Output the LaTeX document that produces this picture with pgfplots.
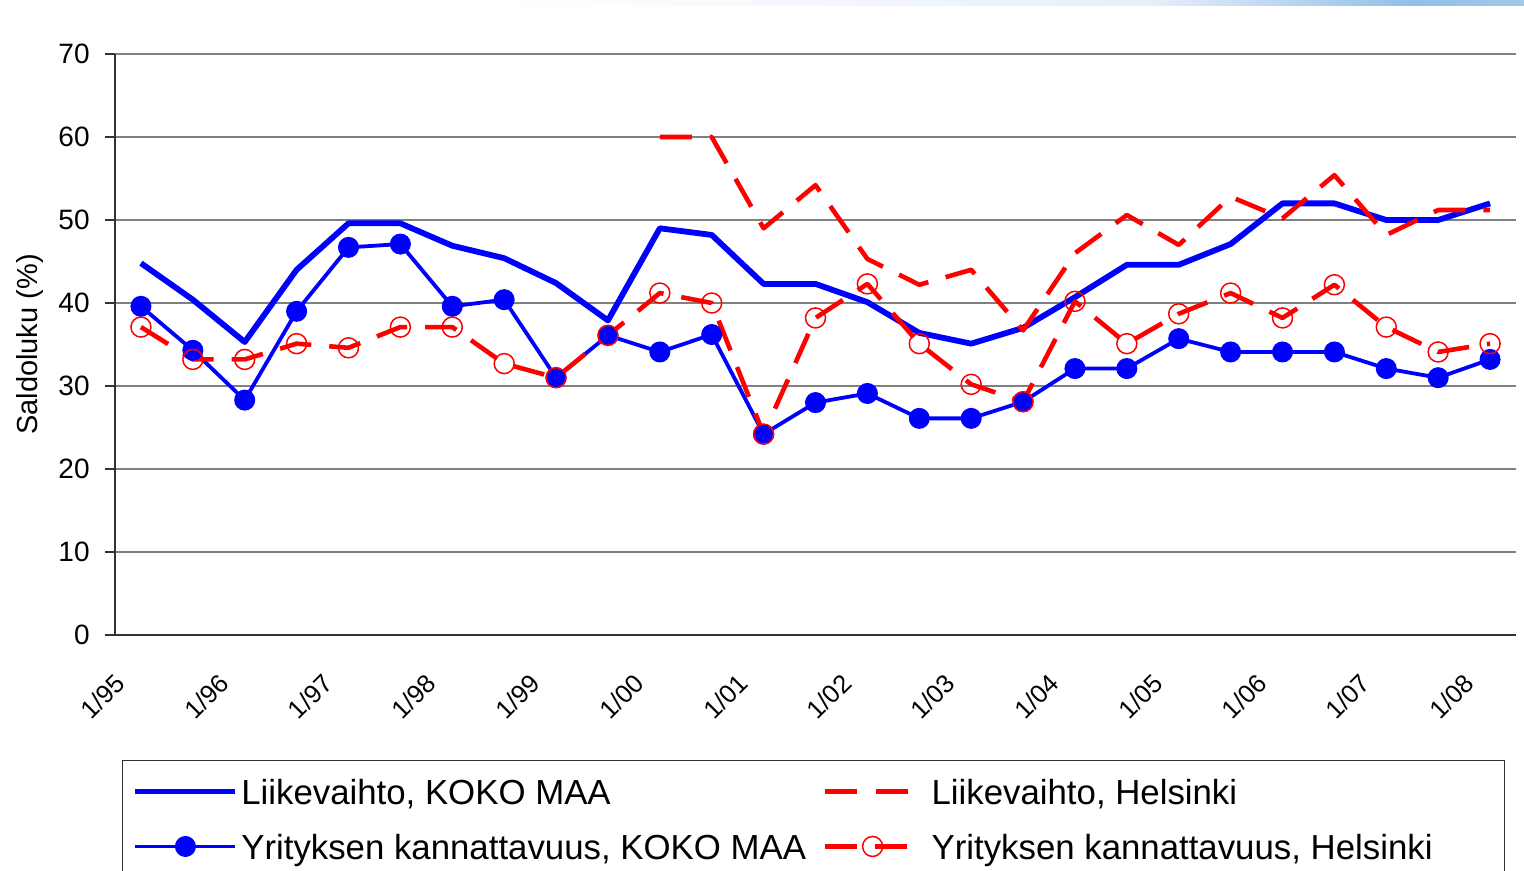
\documentclass[border=0pt]{standalone}
\usepackage{fontspec}
\setmainfont{Liberation Sans}
\usepackage{pgfplots}
\usepackage{pgfplotstable}
\pgfplotsset{compat=1.18}

\definecolor{xblue}{RGB}{0,0,255}
\definecolor{xred}{RGB}{255,0,0}
\definecolor{barA}{RGB}{232,238,250}
\definecolor{barB}{RGB}{145,192,232}
\definecolor{barC}{RGB}{160,200,235}

\pgfplotsset{
  imgA/.style={legend image code/.code={\draw[##1] (0pt,0pt) -- (50pt,0pt);}},
  imgB/.style={legend image code/.code={\draw[##1, dash pattern=on 16pt off 9.5pt] (0pt,0pt) -- (41.5pt,0pt); \path[draw=none,fill=none] (0pt,0pt) -- (52pt,0pt);}},
  imgC/.style={legend image code/.code={\draw[##1, mark repeat=2, mark phase=2] plot coordinates {(0pt,0pt) (25pt,0pt) (50pt,0pt)};}},
  imgD/.style={legend image code/.code={\draw[##1, mark repeat=2, mark phase=2] plot coordinates {(0pt,0pt) (24pt,0pt) (41.5pt,0pt)}; \path[draw=none,fill=none] (0pt,0pt) -- (52pt,0pt);}},
}

\pgfplotstableread{
x y
0 44.8
1 40.4
2 35.3
3 44.0
4 49.6
5 49.6
6 46.9
7 45.4
8 42.4
9 37.9
10 49.0
11 48.2
12 42.3
13 42.3
14 40.1
15 36.4
16 35.1
17 37.0
18 40.7
19 44.6
20 44.6
21 47.1
22 52.0
23 52.0
24 50.0
25 50.0
26 52.0
}\lvkoko

\pgfplotstableread{
x y
10 60.0
11 60.0
12 49.0
13 54.2
14 45.3
15 42.2
16 44.0
17 36.7
18 46.0
19 50.6
20 47.0
21 52.8
22 50.2
23 55.4
24 48.2
25 51.2
26 51.2
}\lvhki

\pgfplotstableread{
x y
0 39.6
1 34.3
2 28.3
3 39.0
4 46.7
5 47.1
6 39.6
7 40.4
8 31.0
9 36.1
10 34.1
11 36.2
12 24.2
13 28.0
14 29.1
15 26.1
16 26.1
17 28.1
18 32.1
19 32.1
20 35.7
21 34.1
22 34.1
23 34.1
24 32.1
25 31.0
26 33.2
}\ykkoko

\pgfplotstableread{
x y
0 37.1
1 33.2
2 33.2
3 35.1
4 34.6
5 37.1
6 37.1
7 32.7
8 31.0
9 36.1
10 41.2
11 40.0
12 24.2
13 38.2
14 42.3
15 35.1
16 30.2
17 28.1
18 40.2
19 35.1
20 38.7
21 41.2
22 38.2
23 42.2
24 37.1
25 34.1
26 35.1
}\ykhki

\begin{document}
\begin{tikzpicture}
\begin{axis}[
  name=ax,
  scale only axis,
  width=700.5pt, height=290.5pt,
  xmin=-0.5, xmax=26.5, ymin=0, ymax=70,
  axis x line*=bottom, axis y line*=left,
  axis line style={black!80, line width=0.6pt},
  xtick={0,2,...,26},
  xticklabels={1/95,1/96,1/97,1/98,1/99,1/00,1/01,1/02,1/03,1/04,1/05,1/06,1/07,1/08},
  x tick style={draw=none},
  ytick={0,10,...,70},
  y tick style={black!80, line width=0.6pt},
  tick align=outside, major tick length=5pt,
  ymajorgrids,
  grid style={draw=black!50, line width=0.6pt},
  /pgf/number format/assume math mode=true,
  yticklabel style={font=\fontsize{14}{16}\selectfont, inner xsep=0pt, xshift=-7.5pt},
  xticklabel style={font=\fontsize{12.8}{15}\selectfont, inner sep=0pt, xshift=-10.25pt, yshift=-16.75pt, rotate=45, anchor=east},
  ylabel={Saldoluku (\%)},
  ylabel style={font=\fontsize{14.5}{17}\selectfont, at={(axis description cs:-0.0607,0.5)}, anchor=center},
  legend columns=2,
  legend cell align=left,
  legend style={at={(axis description cs:0.005,-0.2151)}, anchor=north west,
    draw=black!80, line width=0.5pt, inner xsep=5pt, inner ysep=1.75pt,
    /tikz/column sep=0pt, /tikz/row sep=0pt,
    font=\fontsize{17.4}{20}\selectfont,
    nodes={inner xsep=1.5pt, inner ysep=5.25pt, text height=15pt, text depth=2pt, anchor=west}},
]
\addplot[xblue, line width=2.9pt, line join=round, mark=none, imgA]
  table[x=x,y=y]{\lvkoko};
\addlegendentry{\makebox[289pt][l]{Liikevaihto, KOKO MAA}}

\addplot[xred, line width=2.3pt, dash pattern=on 16pt off 9pt, line join=round, mark=none, imgB]
  table[x=x,y=y]{\lvhki};
\addlegendentry{\makebox[280pt][l]{Liikevaihto, Helsinki}}

\addplot[xblue, line width=1.9pt, line join=round, mark=*, mark size=5pt,
  mark options={solid, fill=xblue, draw=xblue, line width=0.5pt}, imgC]
  table[x=x,y=y]{\ykkoko};
\addlegendentry{\makebox[289pt][l]{Yrityksen kannattavuus, KOKO MAA}}

\addplot[xred, line width=2.3pt, dash pattern=on 16pt off 9pt, line join=round, mark=o, mark size=5pt,
  mark options={solid, draw=xred, fill=none, line width=0.75pt}, imgD]
  table[x=x,y=y]{\ykhki};
\addlegendentry{\makebox[280pt][l]{Yrityksen kannattavuus, Helsinki}}
\end{axis}
\pgfresetboundingbox
\begin{scope}[x=0.5pt,y=-0.5pt,shift={(ax.south west)},shift={(-115,-635)}]
  \shade[left color=white, right color=barA] (500,0) rectangle (1150,6);
  \shade[left color=barA, right color=barB] (1150,0) rectangle (1410,6);
  \shade[left color=barB, right color=barC] (1410,0) rectangle (1524,6);
  \useasboundingbox (0,0) rectangle (1524,871);
\end{scope}
\end{tikzpicture}
\end{document}
